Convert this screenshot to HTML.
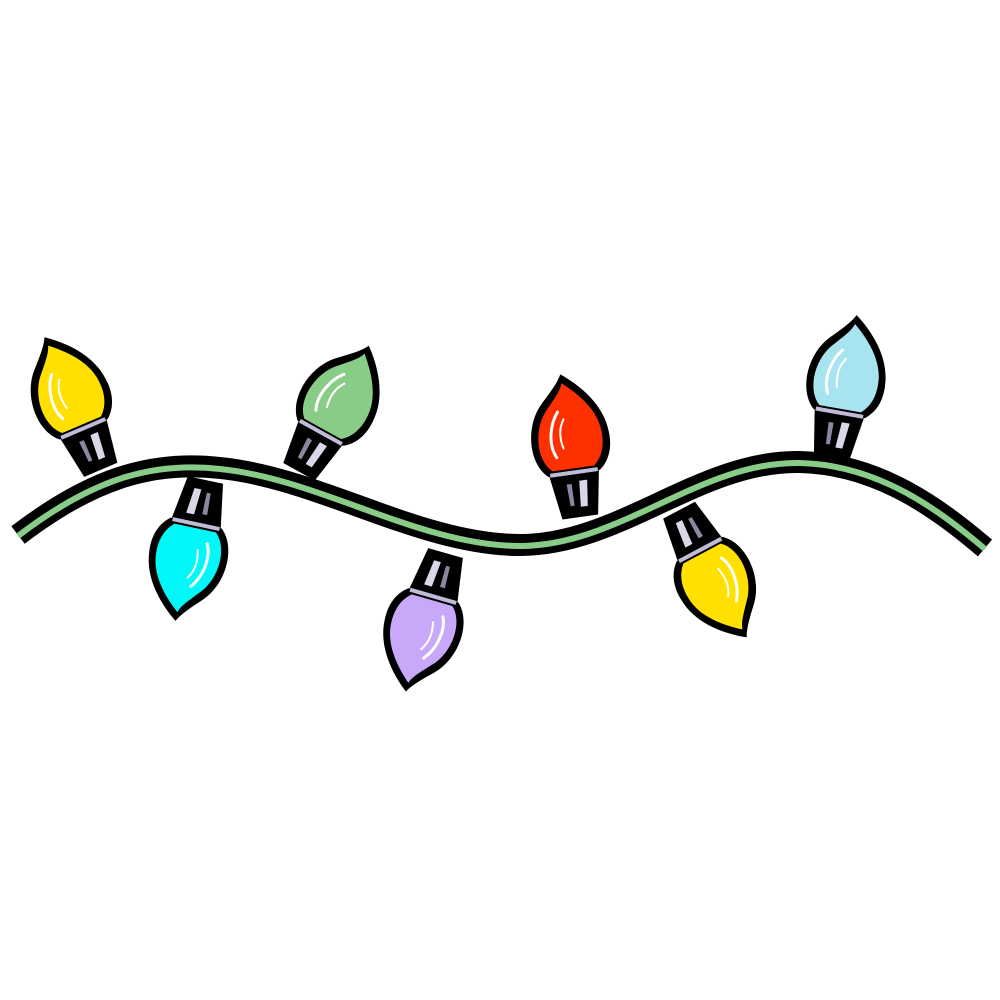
<!DOCTYPE html>
<html><head><style>html,body{margin:0;padding:0;background:#fff}svg{display:block}</style></head>
<body>
<svg width="1000" height="1000" viewBox="0 0 1000 1000" xmlns="http://www.w3.org/2000/svg">
<defs>
<g id="b">
  <path d="M-26,-42 C-44,-58 -42,-96 -22,-116 C-12,-126 -4,-134 0,-142 C16,-130 38,-108 40,-80 C42,-60 34,-48 26,-42 Z" fill="#000"/>
  <path d="M-21,-47 C-36,-60 -34,-93 -17,-110 C-9,-119 -2,-126 0,-133 C13,-122 32,-103 33,-80 C34,-63 28,-53 21,-47 Z" fill="currentColor"/>
  <path d="M-15,-60 C-22,-74 -17,-94 -8,-105" stroke="#fff" stroke-width="3" fill="none" stroke-linecap="round"/>
  <path d="M-7,-68 C-10,-80 -8,-90 -3,-97" stroke="#fff" stroke-width="2" fill="none" stroke-linecap="round"/>
  <polygon points="-18,2 18,2 25,-42 -25,-42" fill="#000"/>
  <line x1="-24" y1="-43" x2="24" y2="-43" stroke="#c0bcd8" stroke-width="4"/>
  <polygon points="2,-8 9,-8 12,-34 4,-34" fill="#d8d8e8"/>
  <polygon points="-8,-10 -4,-10 -4,-32 -9,-32" fill="#8888a0"/>
</g>
</defs>
<path d="M18,535 C90,480 150,460 220,468 C320,478 420,545 520,545 C620,545 700,460 800,462 C880,464 940,510 985,548" stroke="#000" stroke-width="22" fill="none"/>
<path d="M18,542 C90,487 150,467 220,475 C320,485 420,552 520,552 C620,552 700,467 800,469 C880,471 940,517 985,555" stroke="#88cc88" stroke-width="6" fill="none" transform="translate(0,-6)"/>
<use href="#b" transform="translate(100,468) rotate(-23)" color="#ffe000"/>
<use href="#b" transform="translate(205,482) rotate(192)" color="#00f8f8"/>
<use href="#b" transform="translate(300,470) rotate(29)" color="#88cc88"/>
<use href="#b" transform="translate(445,555) rotate(196)" color="#c8a8f8"/>
<use href="#b" transform="translate(580,515) rotate(-8)" color="#ff3000"/>
<use href="#b" transform="translate(680,512) rotate(152)" color="#ffe000"/>
<use href="#b" transform="translate(832,455) rotate(10)" color="#a8e4f0"/>
</svg>
</body></html>
